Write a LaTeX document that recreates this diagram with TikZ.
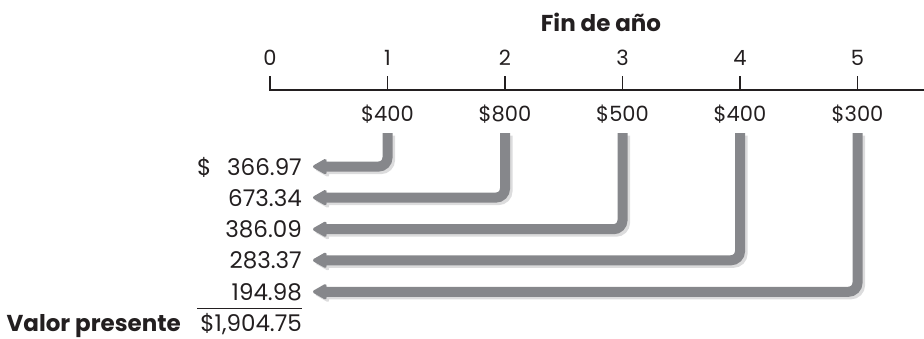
\documentclass[tikz,border=0pt]{standalone}
\usepackage{fontspec}
\setmainfont{Poppins}
\usetikzlibrary{arrows.meta}
\definecolor{ink}{HTML}{231F20}
\definecolor{flowgray}{HTML}{86878B}
\definecolor{shadowgray}{HTML}{DCDCDD}
\tikzset{
  lbl/.style={font=\fontsize{23}{27}\selectfont, text=ink, inner sep=0pt},
  toplbl/.style={font=\fontsize{21}{25}\selectfont, text=ink, inner sep=0pt},
  boldlbl/.style={font=\fontsize{23}{27}\selectfont\bfseries, text=ink, inner sep=0pt},
  axisline/.style={draw=ink, line width=1.6pt},
  flowbase/.style={line width=10pt, rounded corners=9pt, shorten <=10pt, shorten >=11pt,
    -{Stealth[length=17pt,width=19pt,inset=4pt,round]}},
  flow/.style={flowbase, draw=flowgray, fill=none},
  flowshadow/.style={flowbase, draw=shadowgray, transform canvas={xshift=2.5pt,yshift=-2.5pt}},
}
\begin{document}
\begin{tikzpicture}[x=1pt,y=-1pt]
\useasboundingbox (0,0) rectangle (924,338);
% title
\node[boldlbl, anchor=base] (title) at (601,31) {Fin de año};
% year labels
\node[toplbl, anchor=base] (y0) at (270,65) {0};
\node[toplbl, anchor=base] (y1) at (387.5,65) {1};
\node[toplbl, anchor=base] (y2) at (505,65) {2};
\node[toplbl, anchor=base] (y3) at (622.5,65) {3};
\node[toplbl, anchor=base] (y4) at (740,65) {4};
\node[toplbl, anchor=base] (y5) at (857.5,65) {5};
% axis
\draw[axisline] (270,76) -- (270,90) -- (924,90);
\foreach \tx in {387.5,505,622.5,740,857.5} \draw[axisline] (\tx,76) -- (\tx,90);
% cash flows
\node[toplbl, anchor=base] (c1) at (387.5,121) {\$400};
\node[toplbl, anchor=base] (c2) at (505,121) {\$800};
\node[toplbl, anchor=base] (c3) at (622.5,121) {\$500};
\node[toplbl, anchor=base] (c4) at (740,121) {\$400};
\node[toplbl, anchor=base] (c5) at (857.5,121) {\$300};
% present values
\node[lbl, anchor=base west] (dol) at (197,175) {\$};
\node[lbl, anchor=base east] (p1) at (302,175) {366.97};
\node[lbl, anchor=base east] (p2) at (302,206) {673.34};
\node[lbl, anchor=base east] (p3) at (302,237.5) {386.09};
\node[lbl, anchor=base east] (p4) at (302,268.5) {283.37};
\node[lbl, anchor=base east] (p5) at (302,300) {194.98};
\draw[draw=ink, line width=1pt] (197,308) -- (302,308);
\node[lbl, anchor=base east] (tot) at (302,331) {\$1,904.75};
\node[boldlbl, anchor=base east] (vp) at (181,331) {Valor presente};
% arrows: shadows first
\foreach \i in {1,...,5} \draw[flowshadow] (c\i.south) |- (p\i.east);
\foreach \i in {1,...,5} \draw[flow] (c\i.south) |- (p\i.east);
\end{tikzpicture}
\end{document}
